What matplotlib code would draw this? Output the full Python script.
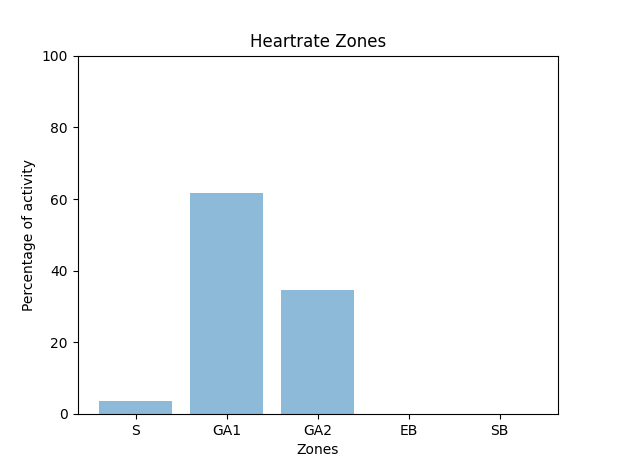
import matplotlib
matplotlib.use("Agg")
import matplotlib.pyplot as plt
import numpy as np

zones = ["S", "GA1", "GA2", "EB", "SB"]
percentages = [3.5, 61.7, 34.7, 0, 0]

fig = plt.figure(figsize=(6.2, 4.65), dpi=100)
y_pos = np.arange(len(zones))
plt.bar(y_pos, percentages, align="center", alpha=0.5)
plt.xticks(y_pos, zones)
plt.ylim(0, 100)
plt.ylabel("Percentage of activity")
plt.xlabel("Zones")
plt.title("Heartrate Zones")

plt.savefig("out.png", dpi=100)
